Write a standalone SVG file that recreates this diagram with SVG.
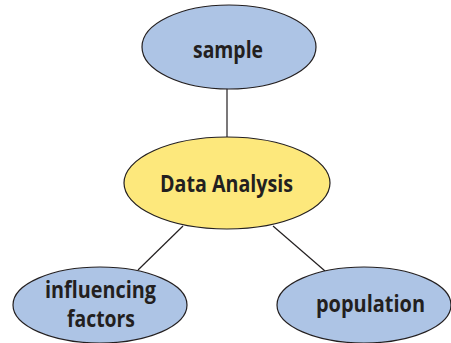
<svg xmlns="http://www.w3.org/2000/svg" width="451" height="343" viewBox="0 0 451 343">
<style>
.blue{fill:#adc4e5;stroke:#231f20;stroke-width:1.2}
.yellow{fill:#fde87c;stroke:#231f20;stroke-width:1.2}
.lbl{font-family:"Open Sans","Liberation Sans",sans-serif;font-weight:700;font-size:23.5px;fill:#231f20;text-anchor:middle}
.conn line{stroke:#231f20;stroke-width:1.2}
</style>
<rect width="451" height="343" fill="#ffffff"/>
<g id="connectors" class="conn">
<line x1="227" y1="88" x2="227" y2="138"/>
<line x1="183" y1="226" x2="138" y2="270"/>
<line x1="273" y1="226" x2="325" y2="271"/>
</g>
<g id="sample">
<ellipse class="blue" cx="229" cy="47" rx="87" ry="42"/>
<text class="lbl" x="228" y="58" textLength="70" lengthAdjust="spacingAndGlyphs">sample</text>
</g>
<g id="data-analysis">
<ellipse class="yellow" cx="227" cy="183" rx="103" ry="46"/>
<text class="lbl" x="226.5" y="192" textLength="133" lengthAdjust="spacingAndGlyphs">Data Analysis</text>
</g>
<g id="influencing-factors">
<ellipse class="blue" cx="100" cy="305" rx="87" ry="38"/>
<text class="lbl" x="100.5" y="298" textLength="111" lengthAdjust="spacingAndGlyphs">influencing</text>
<text class="lbl" x="101" y="327" textLength="68" lengthAdjust="spacingAndGlyphs">factors</text>
</g>
<g id="population">
<ellipse class="blue" cx="364" cy="305" rx="87" ry="38"/>
<text class="lbl" x="370.5" y="312" textLength="109" lengthAdjust="spacingAndGlyphs">population</text>
</g>
</svg>
